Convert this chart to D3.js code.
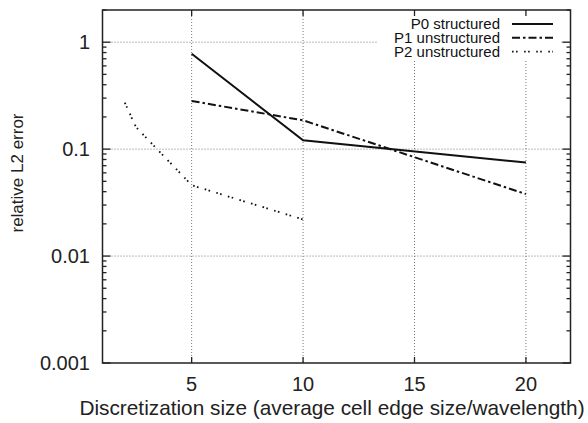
<!DOCTYPE html>
<html><head><meta charset="utf-8">
<script src="https://cdn.jsdelivr.net/npm/d3@7"></script>
<style>
html,body{margin:0;padding:0;background:#fff;}
svg{display:block;font-family:"Liberation Sans",Arial,Helvetica,sans-serif;}
</style></head>
<body><svg id="c" width="588" height="423"></svg>
<script>
const xTicks = [5, 10, 15, 20];
const yTicks = [1, 0.1, 0.01, 0.001];
const yTickLabels = ["1", "0.1", "0.01", "0.001"];
const seriesNames = ["P0 structured", "P1 unstructured", "P2 unstructured"];
const p0x = [5, 10, 20];
const p0y = [0.78, 0.121, 0.075];
const p1x = [5, 10, 20];
const p1y = [0.282, 0.186, 0.038];
const p2x = [2, 2.5, 5, 10];
const p2y = [0.272, 0.161, 0.046, 0.022];

const W = 588, H = 423;
const m = {l: 102.5, r: 570.5, t: 10, b: 363};
const svg = d3.select("#c");
const x = d3.scaleLinear().domain([1, 22]).range([m.l, m.r]);
const y = d3.scaleLog().domain([0.001, 2]).range([m.b, m.t]);

// grid
const grid = svg.append("g").attr("stroke", "#777").attr("stroke-width", 1).attr("stroke-dasharray", "1,2");
xTicks.forEach(v => grid.append("line").attr("x1", x(v)).attr("x2", x(v)).attr("y1", m.t).attr("y2", m.b));
yTicks.filter(v => v > 0.001).forEach(v => grid.append("line").attr("x1", m.l).attr("x2", m.r).attr("y1", y(v)).attr("y2", y(v)));

// series
const series = [
  {xs: p0x, ys: p0y, dash: null, w: 2},
  {xs: p1x, ys: p1y, dash: "8,3,2.5,3", w: 2},
  {xs: p2x, ys: p2y, dash: "1.6,2.4,1.6,6.5", w: 1.8}
];
const line = d3.line().x(d => x(d[0])).y(d => y(d[1]));
series.forEach(s => {
  svg.append("path").datum(s.xs.map((v, i) => [v, s.ys[i]]))
    .attr("d", line).attr("fill", "none").attr("stroke", "#111")
    .attr("stroke-width", s.w).attr("stroke-dasharray", s.dash);
});

// legend background
svg.append("rect").attr("x", 378).attr("y", m.t + 1).attr("width", 183).attr("height", 49).attr("fill", "#fff");
const lg = svg.append("g");
seriesNames.forEach((n, i) => {
  const cy = 24 + i * 13.8;
  lg.append("text").attr("x", 500).attr("y", cy + 5).attr("text-anchor", "end")
    .attr("font-size", 15).attr("fill", "#111").text(n);
  lg.append("line").attr("x1", 512).attr("x2", 553).attr("y1", cy).attr("y2", cy)
    .attr("stroke", "#111").attr("stroke-width", series[i].w).attr("stroke-dasharray", series[i].dash);
});

// axes (ticks inward)
const axG = svg.append("g").attr("stroke", "#222").attr("stroke-width", 1.3);
xTicks.forEach(v => {
  axG.append("line").attr("x1", x(v)).attr("x2", x(v)).attr("y1", m.b).attr("y2", m.b - 6);
  axG.append("line").attr("x1", x(v)).attr("x2", x(v)).attr("y1", m.t).attr("y2", m.t + 6);
});
const minor = [];
[0.001, 0.01, 0.1, 1].forEach(d => { for (let k = 2; k <= 9; k++) { const v = d * k; if (v <= 2) minor.push(v); } });
minor.forEach(v => {
  axG.append("line").attr("x1", m.l).attr("x2", m.l + 4).attr("y1", y(v)).attr("y2", y(v));
  axG.append("line").attr("x1", m.r).attr("x2", m.r - 4).attr("y1", y(v)).attr("y2", y(v));
});
yTicks.forEach(v => {
  axG.append("line").attr("x1", m.l).attr("x2", m.l + 8).attr("y1", y(v)).attr("y2", y(v));
  axG.append("line").attr("x1", m.r).attr("x2", m.r - 8).attr("y1", y(v)).attr("y2", y(v));
});
svg.append("rect").attr("x", m.l).attr("y", m.t).attr("width", m.r - m.l).attr("height", m.b - m.t)
  .attr("fill", "none").attr("stroke", "#222").attr("stroke-width", 1.5);

// tick labels
svg.append("g").selectAll("text").data(xTicks).join("text")
  .attr("x", d => x(d)).attr("y", 391).attr("text-anchor", "middle")
  .attr("font-size", 20).attr("fill", "#222").text(d => d);
svg.append("g").selectAll("text").data(yTicks).join("text")
  .attr("x", 90).attr("y", d => y(d) + 7).attr("text-anchor", "end")
  .attr("font-size", 20).attr("fill", "#222").text((d, i) => yTickLabels[i]);

// axis titles
svg.append("text").attr("x", 332).attr("y", 415).attr("text-anchor", "middle")
  .attr("font-size", 20.8).attr("fill", "#222").text("Discretization size (average cell edge size/wavelength)");
svg.append("text").attr("transform", "translate(23,173) rotate(-90)").attr("text-anchor", "middle")
  .attr("font-size", 17).attr("fill", "#222").text("relative L2 error");
</script></body></html>
